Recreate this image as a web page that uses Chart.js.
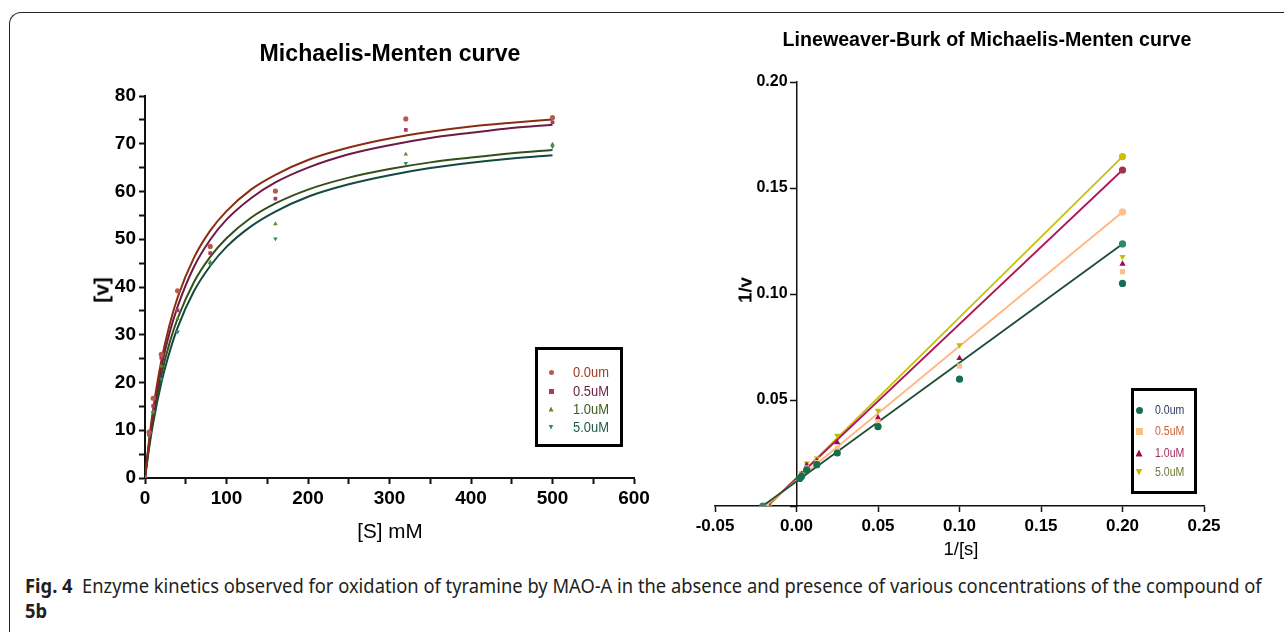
<!DOCTYPE html>
<html>
<head>
<meta charset="utf-8">
<script src="https://cdn.jsdelivr.net/npm/chart.js@4.4.1/dist/chart.umd.min.js"></script>
<style>
html, body { margin: 0; padding: 0; background: #fff; }
body { width: 1284px; height: 632px; position: relative; overflow: hidden; font-family: "Liberation Sans", Arial, sans-serif; }
canvas { position: absolute; }
.frame { position: absolute; left: 9px; top: 12px; width: 1400px; height: 700px;
         border-top: 1.5px solid #222; border-left: 1.5px solid #222; border-top-left-radius: 12px; }
.t { position: absolute; white-space: nowrap; line-height: 1; }
.box { position: absolute; border: 3px solid #000; box-sizing: border-box; }
.mk { position: absolute; }
.caption { position: absolute; left: 25px; white-space: nowrap; line-height: 1; color: #231f20;
           font-family: "Noto Sans", sans-serif; font-size: 19px; transform-origin: left center; }
</style>
</head>
<body>
<div class="frame"></div>
<canvas id="mmChart" width="680" height="570" style="left:0;top:0"></canvas>
<canvas id="lbChart" width="594" height="570" style="left:690px;top:0"></canvas>

<div class="caption" id="cap1" style="top:577px"><b>Fig. 4</b>&nbsp; Enzyme kinetics observed for oxidation of tyramine by MAO-A in the absence and presence of various concentrations of the compound of</div>
<div class="caption" id="cap2" style="top:602px"><b>5b</b></div>

<script>
// ---------------- DATA ----------------
const seriesNames = ["0.0um", "0.5uM", "1.0uM", "5.0uM"];

// Michaelis-Menten: [S] mM against rate [v]
const substrate = [0, 5, 10, 20, 40, 80, 160, 320, 500];
const rate00 = [0, 9.6, 16.7, 25.9, 39.2, 48.5, 60.1, 75.2, 75.5];
const rate05 = [0, 9.3, 15.1, 25.2, 35.1, 47.1, 58.5, 72.9, 74.5];
const rate10 = [0, 9.0, 14.0, 23.4, 33.4, 45.2, 53.2, 67.8, 69.9];
const rate50 = [0, 8.8, 13.7, 20.7, 30.6, 44.8, 50.1, 65.9, 69.4];

// fitted curves
const curveS = [0, 5, 10, 20, 30, 40, 60, 80, 100, 130, 160, 200, 250, 300, 350, 400, 450, 500];
const curve00 = [0, 7.9, 14.4, 24.5, 32.0, 37.8, 46.1, 51.8, 55.9, 60.4, 63.5, 66.6, 69.2, 71.1, 72.5, 73.6, 74.4, 75.1];
const curve05 = [0, 7.3, 13.4, 23.1, 30.3, 35.9, 44.2, 49.9, 54.1, 58.6, 61.9, 65.0, 67.8, 69.7, 71.2, 72.3, 73.3, 74.0];
const curve10 = [0, 6.8, 12.5, 21.5, 28.2, 33.4, 41.0, 46.3, 50.2, 54.5, 57.5, 60.4, 62.9, 64.7, 66.1, 67.1, 68.0, 68.7];
const curve50 = [0, 6.2, 11.5, 19.9, 26.3, 31.5, 39.1, 44.4, 48.4, 52.7, 55.8, 58.9, 61.5, 63.4, 64.9, 66.0, 66.9, 67.6];

const mmTicksX = [0, 50, 100, 150, 200, 250, 300, 350, 400, 450, 500, 550, 600];
const mmTicksY = [0, 5, 10, 15, 20, 25, 30, 35, 40, 45, 50, 55, 60, 65, 70, 75, 80];

// Lineweaver-Burk: 1/[s] against 1/v
const invS = [0.2, 0.1, 0.05, 0.025, 0.0125, 0.00625, 0.003125, 0.002];
const inv00 = [0.105, 0.0598, 0.0374, 0.0250, 0.0195, 0.0170, 0.0140, 0.0130];
const inv05 = [0.1105, 0.0660, 0.0398, 0.0272, 0.0205, 0.0180, 0.0145, 0.0135];
const inv10 = [0.1142, 0.0697, 0.0417, 0.0300, 0.0213, 0.0193, 0.0150, 0.0138];
const inv50 = [0.1176, 0.0759, 0.0450, 0.0332, 0.0225, 0.0201, 0.0154, 0.0140];

// fitted lines: x-intercept and the end at 1/[s] = 0.2
const fitX00 = [-0.0207, 0.2], fitY00 = [0, 0.1236];
const fitX05 = [-0.0190, 0.2], fitY05 = [0, 0.1387];
const fitX10 = [-0.0180, 0.2], fitY10 = [0, 0.1585];
const fitX50 = [-0.0173, 0.2], fitY50 = [0, 0.1648];

const lbTicksX = [-0.05, 0, 0.05, 0.10, 0.15, 0.20, 0.25];
const lbTicksY = [0, 0.05, 0.10, 0.15, 0.20];

// ---------------- HELPERS ----------------
const xy = (xs, ys) => xs.map((x, i) => ({ x: x, y: ys[i] }));
const shapes = ["circle", "rect", "triangle", "triangle"];
const turns = [0, 0, 0, 180];

function addText(txt, x, y, o) {
    const el = document.createElement("div");
    el.className = "t";
    el.textContent = txt;
    el.style.font = o.font;
    el.style.color = o.color || "#000";
    el.style.left = x + "px";
    el.style.top = y + "px";
    document.body.appendChild(el);
    const k = o.w ? o.w / el.offsetWidth : 1;
    if (o.align === "left") {
        el.style.transformOrigin = "left center";
        el.style.transform = "translate(0,-50%) scaleX(" + k + ")";
    } else {
        el.style.transform = "translate(-50%,-50%)" + (o.rot ? " rotate(-90deg)" : "") + " scaleX(" + k + ")";
    }
}

function addMarker(shape, x, y, s, color) {
    const el = document.createElement("div");
    el.className = "mk";
    el.style.left = (x - s / 2) + "px";
    el.style.top = (y - s / 2) + "px";
    el.style.width = s + "px";
    el.style.height = s + "px";
    el.style.background = color;
    if (shape === 0) el.style.borderRadius = "50%";
    if (shape === 2) el.style.clipPath = "polygon(50% 0, 100% 100%, 0 100%)";
    if (shape === 3) el.style.clipPath = "polygon(0 0, 100% 0, 50% 100%)";
    document.body.appendChild(el);
}

const tickFont = size => ({ family: "'Liberation Sans', Arial, sans-serif", size: size, weight: "bold" });

// ---------------- MICHAELIS-MENTEN CHART ----------------
const mmPoint = ["#b85a48", "#a8386a", "#5b8c2a", "#2b8a70"];
const mmCurve = ["#8a2c10", "#6e1a45", "#33501a", "#124a40"];
const mmText = ["#9c3c25", "#6a1f40", "#3c5a1a", "#1e5a48"];
const rates = [rate00, rate05, rate10, rate50];
const curves = [curve00, curve05, curve10, curve50];

const mmSets = [];
rates.forEach((r, i) => mmSets.push({
    type: "scatter", label: seriesNames[i], data: xy(substrate, r),
    pointStyle: shapes[i], rotation: turns[i], pointRadius: 2.6,
    backgroundColor: mmPoint[i], borderColor: mmPoint[i], borderWidth: 0
}));
curves.forEach((c, i) => mmSets.push({
    type: "line", label: seriesNames[i] + " fit", data: xy(curveS, c),
    borderColor: mmCurve[i], borderWidth: 2, pointRadius: 0,
    cubicInterpolationMode: "monotone", fill: false
}));

new Chart(document.getElementById("mmChart"), {
    type: "scatter",
    data: { datasets: mmSets },
    options: {
        responsive: false, animation: false, devicePixelRatio: 1,
        layout: { padding: { left: 100, top: 96, right: 46, bottom: 52 } },
        plugins: { legend: { display: false }, tooltip: { enabled: false } },
        scales: {
            x: {
                type: "linear", min: 0, max: 600,
                afterBuildTicks: s => { s.ticks = mmTicksX.map(v => ({ value: v })); },
                afterFit: s => { s.height = 40; },
                grid: { drawOnChartArea: false, tickLength: 6, tickWidth: 2, tickColor: "#111" },
                border: { color: "#111", width: 2 },
                ticks: { autoSkip: false, maxRotation: 0, color: "#000", font: tickFont(19), padding: 3,
                         callback: v => (v % 100 === 0 ? v : "") }
            },
            y: {
                type: "linear", min: 0, max: 80,
                afterBuildTicks: s => { s.ticks = mmTicksY.map(v => ({ value: v })); },
                afterFit: s => { s.width = 45; },
                grid: { drawOnChartArea: false, tickLength: 6, tickWidth: 2, tickColor: "#111" },
                border: { color: "#111", width: 2 },
                ticks: { autoSkip: false, color: "#000", font: tickFont(19), padding: 3,
                         callback: v => (v % 10 === 0 ? v : "") }
            }
        }
    }
});

// ---------------- LINEWEAVER-BURK CHART ----------------
const lbPoint = ["#127050", "#fbbf88", "#a00a48", "#c4bc00"];
const lbLine = ["#1d4d33", "#ffb680", "#b0145c", "#c8c010"];
const lbEnd = ["#2a8a6a", "#ffc090", "#a03050", "#c8c000"];
const lbText = ["#2e3a60", "#c9603a", "#a03060", "#6a7a30"];
const invs = [inv00, inv05, inv10, inv50];
const fitsX = [fitX00, fitX05, fitX10, fitX50];
const fitsY = [fitY00, fitY05, fitY10, fitY50];

const lbSets = [];
invs.forEach((r, i) => lbSets.push({
    type: "scatter", label: seriesNames[i], data: xy(invS, r),
    pointStyle: shapes[i], rotation: turns[i], pointRadius: 3.6,
    backgroundColor: lbPoint[i], borderColor: lbPoint[i], borderWidth: 0
}));
fitsX.forEach((fx, i) => lbSets.push({
    type: "line", label: seriesNames[i] + " fit", data: xy(fx, fitsY[i]),
    borderColor: lbLine[i], borderWidth: 1.8, pointRadius: 3.6, pointStyle: "circle",
    pointBackgroundColor: lbEnd[i], pointBorderWidth: 0, fill: false
}));

new Chart(document.getElementById("lbChart"), {
    type: "scatter",
    data: { datasets: lbSets },
    options: {
        responsive: false, animation: false, devicePixelRatio: 1,
        layout: { padding: { left: 25, top: 82, right: 80, bottom: 24 } },
        plugins: { legend: { display: false }, tooltip: { enabled: false } },
        scales: {
            x: {
                type: "linear", min: -0.05, max: 0.25,
                afterBuildTicks: s => { s.ticks = lbTicksX.map(v => ({ value: v })); },
                afterFit: s => { s.height = 40; },
                grid: { drawOnChartArea: false, tickLength: 6, tickWidth: 1.5, tickColor: "#111" },
                border: { color: "#111", width: 1.5 },
                ticks: { autoSkip: false, maxRotation: 0, color: "#000", font: tickFont(17), padding: 4,
                         callback: v => v.toFixed(2) }
            },
            y: {
                type: "linear", min: 0, max: 0.2, position: { x: 0 },
                afterBuildTicks: s => { s.ticks = lbTicksY.map(v => ({ value: v })); },
                grid: { drawOnChartArea: false, tickLength: 6, tickWidth: 1.5, tickColor: "#111" },
                border: { color: "#111", width: 1.5 },
                // labels of an axis placed at x = 0 sit right on the line, so pad them with spaces
                ticks: { autoSkip: false, color: "#000", font: tickFont(16),
                         callback: v => (v === 0 ? "" : v.toFixed(2) + "  ") }
            }
        }
    }
});

// ---------------- TITLES AND AXIS NAMES ----------------
addText("Michaelis-Menten curve", 390, 53, { font: "bold 24px 'Liberation Sans', Arial", w: 261 });
addText("[v]", 102, 290, { font: "bold 20px 'Liberation Sans', Arial", rot: true, w: 25 });
addText("[S] mM", 390, 531, { font: "20px 'Liberation Sans', Arial", w: 65 });
addText("Lineweaver-Burk of Michaelis-Menten curve", 987, 39, { font: "bold 20px 'Liberation Sans', Arial", w: 409 });
addText("1/v", 746, 290, { font: "bold 18px 'Liberation Sans', Arial", rot: true, w: 26 });
addText("1/[s]", 961, 549, { font: "18px 'Liberation Sans', Arial", w: 35 });

// ---------------- LEGENDS ----------------
function addBox(l, t, w, h) {
    const b = document.createElement("div");
    b.className = "box";
    b.style.left = l + "px"; b.style.top = t + "px";
    b.style.width = w + "px"; b.style.height = h + "px";
    document.body.appendChild(b);
}
addBox(535, 347, 88, 100);
[372, 391, 409, 427].forEach((y, i) => {
    addMarker(i, 551, y, 5, mmPoint[i]);
    addText(seriesNames[i], 573, y, { font: "14px 'Liberation Sans', Arial", color: mmText[i], align: "left", w: 36 });
});
addBox(1131, 388, 66, 106);
[410, 431, 453, 472].forEach((y, i) => {
    addMarker(i, 1139, y, 7, lbPoint[i]);
    addText(seriesNames[i], 1155, y, { font: "12px 'Liberation Sans', Arial", color: lbText[i], align: "left", w: 29 });
});

// ---------------- CAPTION ----------------
const cap1 = document.getElementById("cap1");
cap1.style.transform = "scaleX(" + (1237 / cap1.offsetWidth) + ")";
document.getElementById("cap2").style.transform = cap1.style.transform;
</script>
</body>
</html>
